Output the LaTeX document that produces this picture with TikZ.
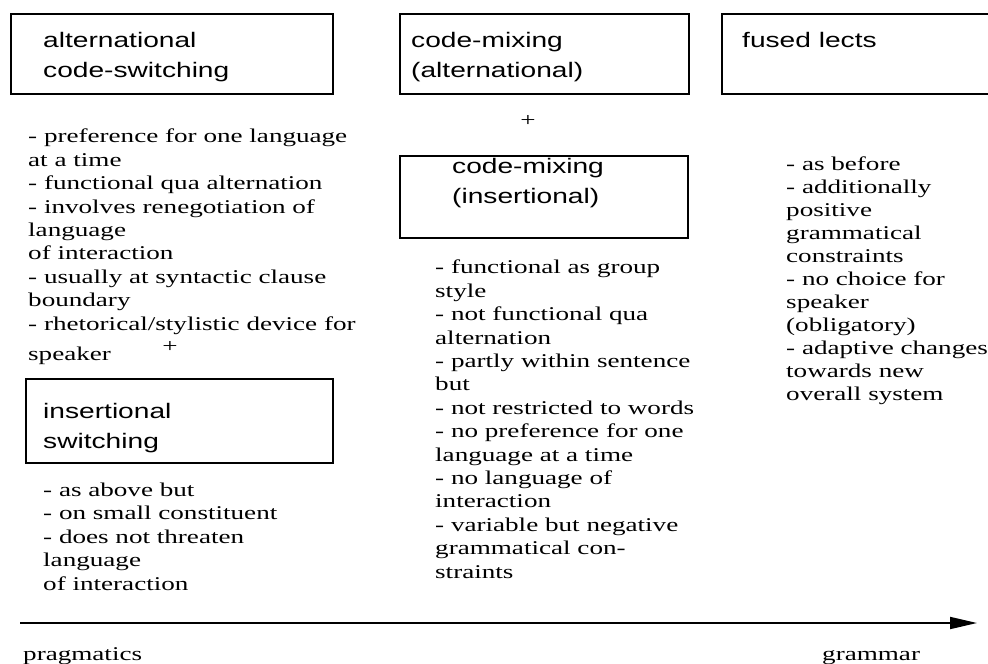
\documentclass[tikz,border=0pt]{standalone}
\usepackage{fontspec}
\setmainfont{Liberation Serif}[FakeStretch=1.39]
\newfontfamily\boxfont{Liberation Sans}[FakeStretch=1.34]
\usetikzlibrary{positioning, calc, arrows.meta}

\tikzset{
	lect/.style={draw, rectangle, line width=1.8pt, inner sep=0pt, anchor=north west},
	% multi-line nodes sit on the baseline of their last line
	lecttext/.style={anchor=base west, inner sep=0pt, align=left, font=\boxfont\fontsize{21}{30}\selectfont},
	notes/.style={anchor=base west, inner sep=0pt, align=left, font=\fontsize{19.5}{23.4}\selectfont},
	plus/.style={inner sep=0pt, font=\fontsize{19.5}{23.4}\selectfont},
}

\begin{document}
\begin{tikzpicture}[x=1pt, y=-1pt]
			\useasboundingbox (0,0) rectangle (988,664);
			\clip (0,0) rectangle (988,664);
			
			\node (altcs) [lect, minimum width=322pt, minimum height=80pt] at (10,13) {};
			\node (cmalt) [lect, minimum width=289pt, minimum height=80pt] at (399,13) {};
			\node (fused) [lect, minimum width=300pt, minimum height=80pt] at (721,13) {};
			\node (cmins) [lect, minimum width=288pt, minimum height=82pt] at (399,155) {};
			\node (inssw) [lect, minimum width=307pt, minimum height=84pt] at (25,378) {};
			
			\node (altcs-t) [lecttext] at ($(altcs.north west)+(33,64)$) {alternational\\code-switching};
			\node (cmalt-t) [lecttext] at ($(cmalt.north west)+(12,64)$) {code-mixing\\(alternational)};
			\node (fused-t) [lecttext] at ($(fused.north west)+(21,34)$) {fused lects};
			\node (cmins-t) [lecttext] at ($(cmins.north west)+(53,48)$) {code-mixing\\(insertional)};
			\node (inssw-t) [lecttext] at ($(inssw.north west)+(18,70)$) {insertional\\switching};
			
			\node (plus1) [plus] at (170,347) {+};
			\node (plus2) [plus] at (528,121) {+};
			
			\node (altcs-n) [notes] at (28,360) {- preference for one language\\at a time\\- functional qua alternation\\- involves renegotiation of\\language\\of interaction\\- usually at syntactic clause\\boundary\\- rhetorical/stylistic device for\\[6.6pt]speaker};
			\node (inssw-n) [notes] at (43,590) {- as above but\\- on small constituent\\- does not threaten\\language\\of interaction};
			\node (cmins-n) [notes] at (435,578) {- functional as group\\style\\- not functional qua\\alternation\\- partly within sentence\\but\\- not restricted to words\\- no preference for one\\language at a time\\- no language of\\interaction\\- variable but negative\\grammatical con-\\straints};
			\node (fused-n) [notes, font=\fontsize{19.5}{23}\selectfont] at (786,400) {- as before\\- additionally\\positive\\grammatical\\constraints\\- no choice for\\speaker\\(obligatory)\\- adaptive changes\\towards new\\overall system};
			
			\node (prag) [notes] at (23,660) {pragmatics};
			\node (gram) [notes] at (822,660) {grammar};
			
			\coordinate (scale-start) at (20,623);
			\coordinate (scale-end) at (977,623);
			\draw [line width=1.8pt, -{Triangle[length=27pt, width=12pt]}] (scale-start) -- (scale-end);
			
\end{tikzpicture}
\end{document}
